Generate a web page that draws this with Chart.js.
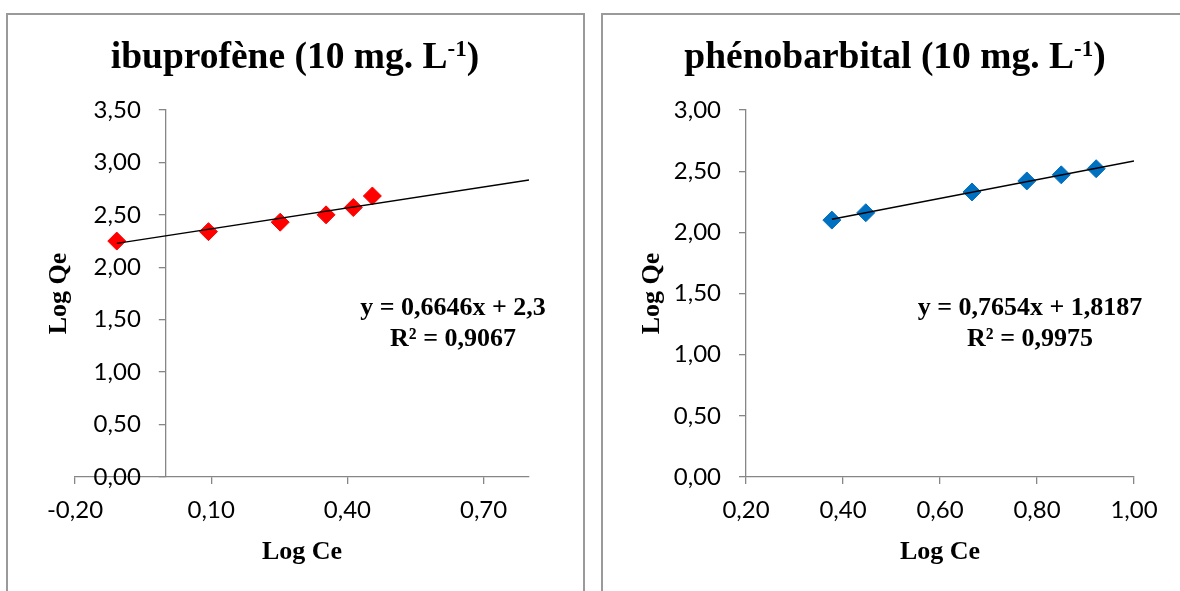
<!DOCTYPE html>
<html><head><meta charset="utf-8">
<script src="https://cdn.jsdelivr.net/npm/chart.js@4"></script>
<style>
html,body{margin:0;padding:0;background:#fff;width:1180px;height:591px;overflow:hidden}
.frame{position:absolute;box-sizing:border-box;border:2px solid #9a9a9a;}
canvas{position:absolute;top:0}
</style></head><body>
<div class="frame" style="left:6px;top:13px;width:579px;height:600px"></div>
<div class="frame" style="left:601px;top:13px;width:600px;height:600px"></div>
<canvas id="c1" width="590" height="591" style="left:0"></canvas>
<canvas id="c2" width="590" height="591" style="left:590px"></canvas>
<script>
// ---- data: ibuprofène ----
const ibuLogCe = [-0.108, 0.094, 0.252, 0.353, 0.413, 0.455];
const ibuLogQe = [2.25, 2.34, 2.43, 2.50, 2.57, 2.68];
const ibuTrendX = [-0.108, 0.80];
const ibuTrendY = [2.228, 2.832];
const ibuXTicks = [-0.20, 0.10, 0.40, 0.70];
const ibuYTicks = [0, 0.5, 1, 1.5, 2, 2.5, 3, 3.5];
const ibuTitle = ['ibuprofène (10 mg. L', '-1', ')'];
const ibuEq = ['y = 0,6646x + 2,3', 'R² = 0,9067'];

// ---- data: phénobarbital ----
const phenoLogCe = [0.377, 0.447, 0.666, 0.779, 0.850, 0.922];
const phenoLogQe = [2.10, 2.16, 2.33, 2.42, 2.47, 2.52];
const phenoTrendX = [0.377, 1.00];
const phenoTrendY = [2.107, 2.584];
const phenoXTicks = [0.20, 0.40, 0.60, 0.80, 1.00];
const phenoYTicks = [0, 0.5, 1, 1.5, 2, 2.5, 3];
const phenoTitle = ['phénobarbital (10 mg. L', '-1', ')'];
const phenoEq = ['y = 0,7654x + 1,8187', 'R² = 0,9975'];

const xAxisTitle = 'Log Ce';
const yAxisTitle = 'Log Qe';

const fmt = v => Number(v).toFixed(2).replace('.', ',');
const SERIF = '"Liberation Serif", "Times New Roman", serif';

const textPlugin = {
  id: 'texts',
  afterLayout(chart, args, o) {
    // place the vertical axis where the horizontal axis crosses it
    const ys = chart.scales.y;
    const px = chart.scales.x.getPixelForValue(o.yAt);
    ys.left = 0; ys.right = px;
  },
  afterDraw(chart, args, o) {
    const ctx = chart.ctx;
    const ca = chart.chartArea;
    ctx.save();
    ctx.fillStyle = '#000';
    const big = 'bold 37.5px ' + SERIF, small = 'bold 23px ' + SERIF;
    ctx.font = big;
    const w1 = ctx.measureText(o.title[0]).width, w3 = ctx.measureText(o.title[2]).width;
    ctx.font = small;
    const w2 = ctx.measureText(o.title[1]).width;
    let x = o.titleX - (w1 + w2 + w3) / 2;
    ctx.textAlign = 'left'; ctx.textBaseline = 'alphabetic';
    ctx.font = big; ctx.fillText(o.title[0], x, o.titleY); x += w1;
    ctx.font = small; ctx.fillText(o.title[1], x, o.titleY - 12); x += w2;
    ctx.font = big; ctx.fillText(o.title[2], x, o.titleY);

    ctx.font = 'bold 26px ' + SERIF;
    ctx.textAlign = 'center'; ctx.textBaseline = 'middle';
    ctx.fillText(o.xTitle, (ca.left + ca.right) / 2, o.xTitleY);
    ctx.save();
    ctx.translate(o.yTitleX, (ca.top + ca.bottom) / 2);
    ctx.rotate(-Math.PI / 2);
    ctx.fillText(o.yTitle, 0, 0);
    ctx.restore();

    ctx.textBaseline = 'alphabetic';
    ctx.fillText(o.eq[0], o.eqX, o.eqY[0]);
    ctx.fillText(o.eq[1], o.eqX, o.eqY[1]);
    ctx.restore();
  }
};

function build(id, o) {
  return new Chart(document.getElementById(id), {
    type: 'scatter',
    data: {
      datasets: [
        {
          data: o.tx.map((x, i) => ({x, y: o.ty[i]})),
          showLine: true, borderColor: '#000', borderWidth: 1.5,
          pointRadius: 0, pointHoverRadius: 0, fill: false
        },
        {
          data: o.x.map((x, i) => ({x, y: o.y[i]})),
          pointStyle: 'rectRot', pointRadius: 9, pointHoverRadius: 9,
          backgroundColor: o.color, borderColor: o.color, borderWidth: 1
        }
      ]
    },
    options: {
      responsive: false, animation: false, events: [],
      layout: {padding: {left: o.padL, right: o.padR, top: 110, bottom: 54}},
      plugins: {
        legend: {display: false}, tooltip: {enabled: false}, title: {display: false},
        texts: {
          yAt: o.yAt,
          title: o.title, titleX: o.titleX, titleY: 68,
          xTitle: xAxisTitle, xTitleY: 552, yTitle: yAxisTitle, yTitleX: o.yTitleX,
          eq: o.eq, eqX: o.eqX, eqY: [315, 346]
        }
      },
      scales: {
        x: {
          type: 'linear', position: 'bottom', min: o.xmin, max: o.xmax,
          afterBuildTicks: s => { s.ticks = o.xTicks.map(v => ({value: v})); },
          afterTickToLabelConversion: s => { s.ticks.forEach(t => { t.label = fmt(t.value); }); },
          afterFit: s => { s.height = 60; },
          grid: {drawOnChartArea: false, drawTicks: true, tickLength: 7, color: '#868686', lineWidth: 1.3},
          border: {display: true, color: '#868686', width: 1.3},
          ticks: {font: {family: 'Lato', size: 24}, color: '#000', padding: 12,
                  maxRotation: 0, autoSkip: false}
        },
        y: {
          type: 'linear', position: 'left', min: 0, max: o.ymax,
          afterBuildTicks: s => { s.ticks = o.yTicks.map(v => ({value: v})); },
          afterTickToLabelConversion: s => { s.ticks.forEach(t => { t.label = fmt(t.value); }); },
          afterFit: s => { s.width = 0; },
          grid: {drawOnChartArea: false, drawTicks: true, tickLength: 7, color: '#868686', lineWidth: 1.3},
          border: {display: true, color: '#868686', width: 1.3},
          ticks: {font: {family: 'Lato', size: 24}, color: '#000', padding: 18, autoSkip: false}
        }
      }
    },
    plugins: [textPlugin]
  });
}

build('c1', {
  x: ibuLogCe, y: ibuLogQe, tx: ibuTrendX, ty: ibuTrendY, color: '#ff0000',
  xTicks: ibuXTicks, yTicks: ibuYTicks, xmin: -0.2, xmax: 0.8, ymax: 3.5, yAt: 0,
  padL: 75, padR: 61, title: ibuTitle, titleX: 295, yTitleX: 59, eq: ibuEq, eqX: 453
});
build('c2', {
  x: phenoLogCe, y: phenoLogQe, tx: phenoTrendX, ty: phenoTrendY, color: '#0070c0',
  xTicks: phenoXTicks, yTicks: phenoYTicks, xmin: 0.2, xmax: 1.0, ymax: 3.0, yAt: 0.2,
  padL: 156, padR: 46, title: phenoTitle, titleX: 305, yTitleX: 62, eq: phenoEq, eqX: 440
});
</script>
</body></html>
